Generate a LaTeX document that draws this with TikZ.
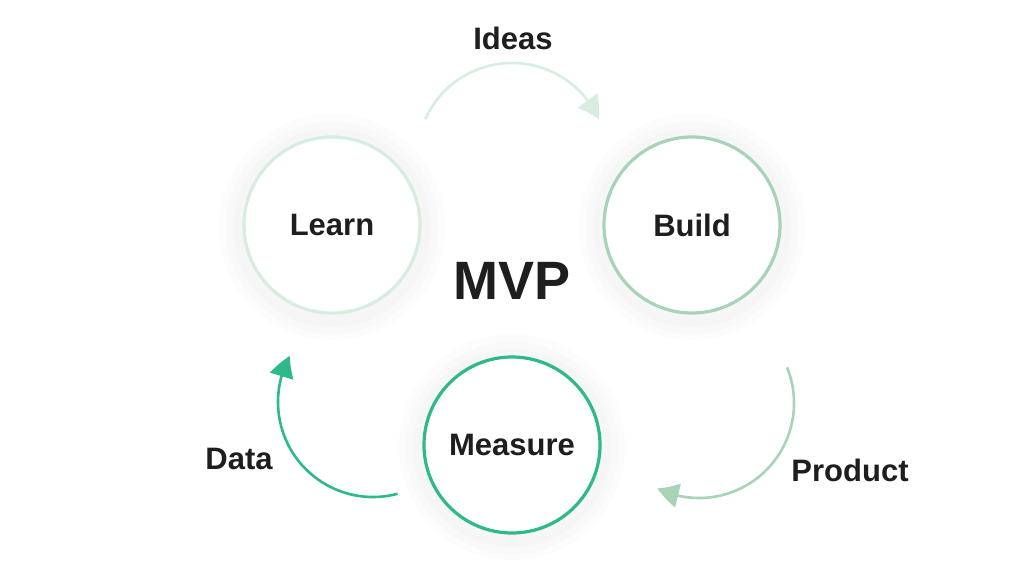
\documentclass[tikz,border=0pt]{standalone}
\usepackage{fontspec}
\setmainfont{Liberation Sans}
\usetikzlibrary{arrows.meta,bending}
\definecolor{learnc}{HTML}{D6EEE0}
\definecolor{buildc}{HTML}{A7D4B7}
\definecolor{measc}{HTML}{2DB98A}
\definecolor{txt}{HTML}{1E1E1E}
\tikzset{
  lbl/.style={text=txt,font=\fontsize{31}{36}\selectfont\bfseries,inner sep=0pt},
  stage/.style={circle,draw,line width=3.2pt,fill=white,minimum size=176pt,inner sep=0pt,text=txt,font=\fontsize{31}{36}\selectfont\bfseries},
  halo/.style={circle,fill=black!1.2,minimum size=226pt,inner sep=0pt,draw=none},
  halomid/.style={circle,fill=black!2.2,minimum size=212pt,inner sep=0pt,draw=none},
  haloin/.style={circle,fill=black!3.5,minimum size=198pt,inner sep=0pt,draw=none},
  flow/.style={line width=2.6pt,-{Triangle[length=22pt,width=24pt,bend]}},
}
\begin{document}
\begin{tikzpicture}[x=1pt,y=1pt]
\useasboundingbox (0,0) rectangle (1024,581);
\fill[white] (0,0) rectangle (1024,581);
% halos
\foreach \hx/\hy in {332/356,692/356,512/136}{
  \node[halo] (h\hx) at (\hx,\hy-2) {};
  \node[halomid] (hm\hx) at (\hx,\hy-3) {};
  \node[haloin] (hi\hx) at (\hx,\hy-3) {};
}
% stages
\node[stage,draw=learnc] (learn) at (332,356) {Learn};
\node[stage,draw=buildc] (build) at (692,356) {Build};
\node[stage,draw=measc] (measure) at (512,136) {Measure};
\node[lbl,font=\fontsize{54}{60}\selectfont\bfseries] (mvp) at (512,300) {MVP};
% arcs
\coordinate (ideasS) at ({512+95*cos(156)},{423+95*sin(156)});
\coordinate (prodS) at ({699+95*cos(22)},{178+95*sin(22)});
\coordinate (dataS) at ({373+95*cos(-75)},{179+95*sin(-75)});
\draw[flow,learnc] (ideasS) arc[start angle=156,end angle=24,radius=95];
\draw[flow,buildc] (prodS) arc[start angle=22,end angle=-116,radius=95];
\draw[flow,measc] (dataS) arc[start angle=-75,end angle=-209,radius=95];
% labels
\node[lbl] (ideas) at (513,543) {Ideas};
\node[lbl] (data) at (239,122) {Data};
\node[lbl] (product) at (850,111) {Product};
\end{tikzpicture}
\end{document}
